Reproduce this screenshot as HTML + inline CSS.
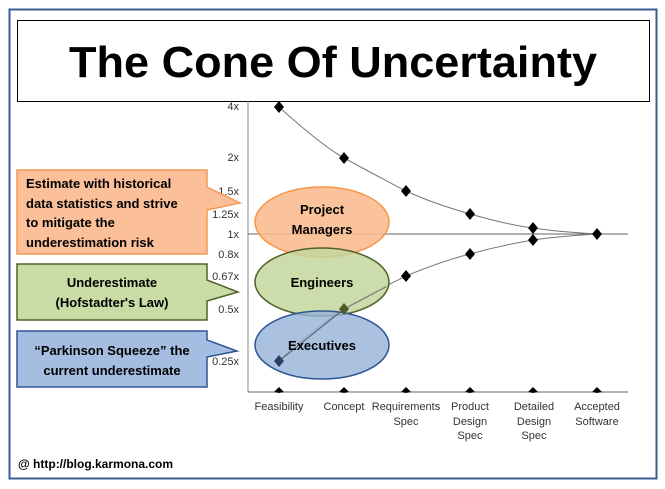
<!DOCTYPE html>
<html><head><meta charset="utf-8"><style>
body{margin:0;background:#fff;}
svg{display:block;}
.c{font-family:"Liberation Sans",sans-serif;font-weight:bold;fill:#000;}
.a{font-family:"Liberation Sans",sans-serif;font-size:11px;fill:#333;}
</style></head><body>
<svg width="665" height="489" viewBox="0 0 665 489" xmlns="http://www.w3.org/2000/svg">
<rect x="0" y="0" width="665" height="489" fill="#fff"/>
<rect x="9.5" y="9.5" width="647" height="469" fill="#fff" stroke="#3a5d96" stroke-width="2"/>
<rect x="17.5" y="20.5" width="632" height="81" fill="#fff" stroke="#000" stroke-width="1"/>
<text x="333" y="77" text-anchor="middle" font-family="'Liberation Sans',sans-serif" font-size="44" font-weight="bold" fill="#000" textLength="528" lengthAdjust="spacingAndGlyphs">The Cone Of Uncertainty</text>

<line x1="248" y1="101" x2="248" y2="392" stroke="#888" stroke-width="1"/>
<line x1="248" y1="392" x2="628" y2="392" stroke="#666" stroke-width="1"/>
<line x1="248" y1="234" x2="628" y2="234" stroke="#666" stroke-width="1"/>
<g class="a" text-anchor="end">
<text x="239" y="110">4x</text><text x="239" y="161">2x</text><text x="239" y="195">1.5x</text>
<text x="239" y="218">1.25x</text><text x="239" y="238">1x</text><text x="239" y="258">0.8x</text>
<text x="239" y="280">0.67x</text><text x="239" y="313">0.5x</text><text x="239" y="365">0.25x</text>
</g>
<g class="a" text-anchor="middle">
<text x="279" y="410">Feasibility</text><text x="344" y="410">Concept</text>
<text x="406" y="410">Requirements</text><text x="406" y="425">Spec</text>
<text x="470" y="410">Product</text><text x="470" y="425">Design</text><text x="470" y="439">Spec</text>
<text x="534" y="410">Detailed</text><text x="534" y="425">Design</text><text x="534" y="439">Spec</text>
<text x="597" y="410">Accepted</text><text x="597" y="425">Software</text>
</g>
<path d="M279 107 C310 135 330 150 344 158 C370 172 390 183 406 191 C430 202 450 208 470 214 C495 221 515 226 533 228 C560 232 580 233 597 234" fill="none" stroke="#777" stroke-width="1"/>
<path d="M279 361 C300 340 325 322 344 309 C365 296 390 284 406 276 C430 266 450 259 470 254 C495 247 515 243 533 240 C560 236 580 235 597 234" fill="none" stroke="#777" stroke-width="1"/>

<path d="M17 170 H207 V187 L240 203 L207 210 V254 H17 Z" fill="#fbbf9a" stroke="#f29a54" stroke-width="1.5"/>
<g class="c" font-size="13"><text x="26" y="188">Estimate with historical</text><text x="26" y="208">data statistics and strive</text><text x="26" y="227">to mitigate the</text><text x="26" y="247">underestimation risk</text></g>
<path d="M17 264 H207 V280 L238 292 L207 301 V320 H17 Z" fill="#c9dca5" stroke="#4f6228" stroke-width="1.5"/>
<g class="c" font-size="13" text-anchor="middle"><text x="112" y="287">Underestimate</text><text x="112" y="307">(Hofstadter's Law)</text></g>
<path d="M17 331 H207 V340 L237 351 L207 357 V387 H17 Z" fill="#a4bde0" stroke="#2f5597" stroke-width="1.5"/>
<g class="c" font-size="13" text-anchor="middle"><text x="112" y="355">“Parkinson Squeeze” the</text><text x="112" y="375">current underestimate</text></g>

<ellipse cx="322" cy="222" rx="67" ry="35" fill="#f9b98a" fill-opacity="0.85" stroke="#f79646" stroke-width="1.5"/>
<ellipse cx="322" cy="282" rx="67" ry="34" fill="#c3d69b" fill-opacity="0.85" stroke="#4f6228" stroke-width="1.5"/>
<ellipse cx="322" cy="345" rx="67" ry="34" fill="#95b3d7" fill-opacity="0.8" stroke="#2f5597" stroke-width="1.5"/>
<line x1="279" y1="361" x2="344" y2="309" stroke="#555" stroke-width="1"/>
<line x1="344" y1="309" x2="386" y2="287" stroke="#777" stroke-width="1"/>
<g class="c" font-size="13" text-anchor="middle"><text x="322" y="214">Project</text><text x="322" y="234">Managers</text><text x="322" y="287">Engineers</text><text x="322" y="350">Executives</text></g>

<g fill="#000">
<path d="M279 101 l5 6 -5 6 -5 -6z"/><path d="M344 152 l5 6 -5 6 -5 -6z"/><path d="M406 185 l5 6 -5 6 -5 -6z"/>
<path d="M470 208 l5 6 -5 6 -5 -6z"/><path d="M533 222 l5 6 -5 6 -5 -6z"/><path d="M597 228 l5 6 -5 6 -5 -6z"/>
<path d="M533 234 l5 6 -5 6 -5 -6z"/><path d="M470 248 l5 6 -5 6 -5 -6z"/><path d="M406 270 l5 6 -5 6 -5 -6z"/>
<path d="M344 303 l5 6 -5 6 -5 -6z" fill="#4f5a2a"/><path d="M279 355 l5 6 -5 6 -5 -6z" fill="#2a3f66"/>
<path d="M279 387 l5 5 -5 1 -5 -1z"/><path d="M344 387 l5 5 -5 1 -5 -1z"/><path d="M406 387 l5 5 -5 1 -5 -1z"/>
<path d="M470 387 l5 5 -5 1 -5 -1z"/><path d="M533 387 l5 5 -5 1 -5 -1z"/><path d="M597 387 l5 5 -5 1 -5 -1z"/>
</g>
<text x="18" y="468" font-family="'Liberation Sans',sans-serif" font-size="12" font-weight="bold" fill="#000">@ http://blog.karmona.com</text>
</svg>
</body></html>
